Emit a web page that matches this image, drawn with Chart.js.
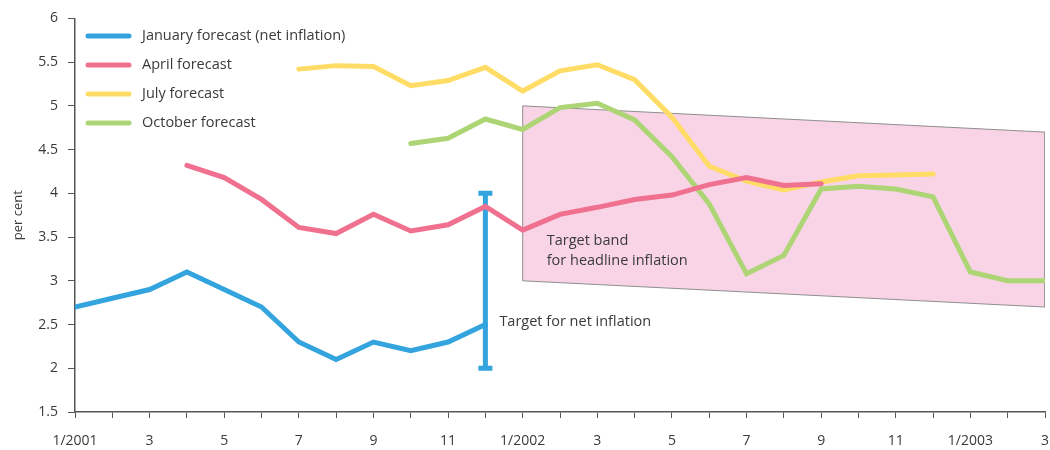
<!DOCTYPE html>
<html lang="en">
<head>
    <meta charset="UTF-8">
    <title>Inflation forecasts</title>
    <script src="https://cdn.jsdelivr.net/npm/chart.js"></script>
    <style>
        body { margin: 0; background: #fff; }
    </style>
</head>
<body>
    <canvas id="inflationChart" width="1050" height="450"></canvas>
    <script>
        // month ticks, only every second one carries a label
        var months = ['1/2001', '', '3', '', '5', '', '7', '', '9', '', '11', '',
                      '1/2002', '', '3', '', '5', '', '7', '', '9', '', '11', '',
                      '1/2003', '', '3'];

        var januaryForecast = [2.7, 2.8, 2.9, 3.1, 2.9, 2.7, 2.3, 2.1, 2.3, 2.2, 2.3, 2.5];
        var aprilForecast = [null, null, null, 4.32, 4.18, 3.93, 3.61, 3.54, 3.76, 3.57, 3.64, 3.85,
                             3.58, 3.76, 3.84, 3.93, 3.98, 4.1, 4.18, 4.09, 4.11];
        var julyForecast = [null, null, null, null, null, null, 5.42, 5.46, 5.45, 5.23, 5.29, 5.44,
                            5.17, 5.4, 5.47, 5.3, 4.87, 4.31, 4.14, 4.04, 4.13, 4.2, 4.21, 4.22];
        var octoberForecast = [null, null, null, null, null, null, null, null, null, 4.57, 4.63, 4.85,
                               4.73, 4.98, 5.03, 4.84, 4.42, 3.88, 3.08, 3.29, 4.05, 4.08, 4.05, 3.96,
                               3.1, 3.0, 3.0];

        // target band for headline inflation: [month index, lower, upper]
        var bandStart = [12, 3.0, 5.0];
        var bandEnd = [26, 2.7, 4.7];
        // target for net inflation (Dec 2001): [month index, lower, upper]
        var netTarget = [11, 2.0, 4.0];

        var seriesNames = ['January forecast (net inflation)', 'April forecast', 'July forecast', 'October forecast'];
        var colors = ['#33a4de', '#f0718f', '#ffdc66', '#add576'];

        var textColor = '#3a3a3a';
        var font = "'Open Sans', sans-serif";

        function toPoints(values) {
            return values.map(function(v, i) { return {x: i, y: v}; });
        }

        function lineSet(i, values) {
            return {
                label: seriesNames[i],
                data: toPoints(values),
                borderColor: colors[i],
                backgroundColor: colors[i],
                borderWidth: 5,
                pointRadius: 0,
                tension: 0,
                fill: false,
                borderCapStyle: 'round',
                borderJoinStyle: 'miter',
                order: i
            };
        }

        var insideLegend = {
            id: 'insideLegend',
            afterDraw: function(chart) {
                var ctx = chart.ctx;
                ctx.save();
                ctx.font = '14.5px ' + font;
                ctx.textBaseline = 'middle';
                ctx.lineCap = 'round';
                for (var i = 0; i < seriesNames.length; i++) {
                    var y = 36 + i * 29;
                    ctx.strokeStyle = colors[i];
                    ctx.lineWidth = 5;
                    ctx.beginPath();
                    ctx.moveTo(88, y);
                    ctx.lineTo(129, y);
                    ctx.stroke();
                    ctx.fillStyle = textColor;
                    ctx.fillText(seriesNames[i], 142, y);
                }
                ctx.restore();
            }
        };

        var notes = {
            id: 'notes',
            afterDatasetsDraw: function(chart) {
                var ctx = chart.ctx;
                var xs = chart.scales.x, ys = chart.scales.y;
                ctx.save();
                ctx.font = '14.5px ' + font;
                ctx.fillStyle = textColor;
                ctx.textBaseline = 'middle';
                var bx = xs.getPixelForValue(bandStart[0]) + 24;
                ctx.fillText('Target band', bx, ys.getPixelForValue(3.46));
                ctx.fillText('for headline inflation', bx, ys.getPixelForValue(3.23));
                ctx.fillText('Target for net inflation', xs.getPixelForValue(netTarget[0]) + 14, ys.getPixelForValue(2.53));
                ctx.restore();
            }
        };

        var ctx = document.getElementById('inflationChart').getContext('2d');
        var inflationChart = new Chart(ctx, {
            type: 'line',
            data: {
                datasets: [
                    lineSet(0, januaryForecast),
                    lineSet(1, aprilForecast),
                    lineSet(2, julyForecast),
                    lineSet(3, octoberForecast),
                    {
                        label: 'Target for net inflation',
                        data: [{x: netTarget[0], y: netTarget[1]}, {x: netTarget[0], y: netTarget[2]}],
                        borderColor: colors[0],
                        backgroundColor: colors[0],
                        borderWidth: 5,
                        pointStyle: 'line',
                        pointRadius: 7,
                        pointBorderWidth: 5,
                        pointBorderColor: colors[0],
                        fill: false,
                        order: 5
                    },
                    {
                        label: 'Target band',
                        data: [
                            {x: bandStart[0], y: bandStart[2]},
                            {x: bandEnd[0], y: bandEnd[2]},
                            {x: bandEnd[0], y: bandEnd[1]},
                            {x: bandStart[0], y: bandStart[1]},
                            {x: bandStart[0], y: bandStart[2]}
                        ],
                        borderColor: '#8f8f8f',
                        backgroundColor: '#f8d4e6',
                        borderWidth: 1,
                        pointRadius: 0,
                        fill: 'shape',
                        tension: 0,
                        order: 10
                    }
                ]
            },
            options: {
                responsive: false,
                animation: false,
                layout: { autoPadding: false, padding: { top: 18, right: 5, left: 0, bottom: 0 } },
                plugins: {
                    legend: { display: false },
                    tooltip: { enabled: false }
                },
                scales: {
                    x: {
                        type: 'linear',
                        min: 0,
                        max: months.length - 1,
                        afterFit: function(scale) {
                            scale.height = 38;
                            scale.paddingLeft = 0;
                            scale.paddingRight = 0;
                        },
                        grid: { drawOnChartArea: false, drawTicks: true, tickLength: 6, color: '#555' },
                        border: { color: '#555', width: 1.5 },
                        ticks: {
                            stepSize: 1,
                            autoSkip: false,
                            maxRotation: 0,
                            padding: 15,
                            color: textColor,
                            font: { family: font, size: 14 },
                            callback: function(value) { return months[value]; }
                        }
                    },
                    y: {
                        min: 1.5,
                        max: 6,
                        afterFit: function(scale) { scale.width = 75; },
                        grid: { drawOnChartArea: false, drawTicks: true, tickLength: 7, color: '#555' },
                        border: { color: '#555', width: 1.5 },
                        ticks: {
                            stepSize: 0.5,
                            padding: 10,
                            color: textColor,
                            font: { family: font, size: 14 },
                            callback: function(value) { return String(value); }
                        },
                        title: {
                            display: true,
                            text: 'per cent',
                            color: textColor,
                            font: { family: font, size: 13 },
                            padding: { top: 10, bottom: 0 }
                        }
                    }
                }
            },
            plugins: [insideLegend, notes]
        });
    </script>
</body>
</html>
